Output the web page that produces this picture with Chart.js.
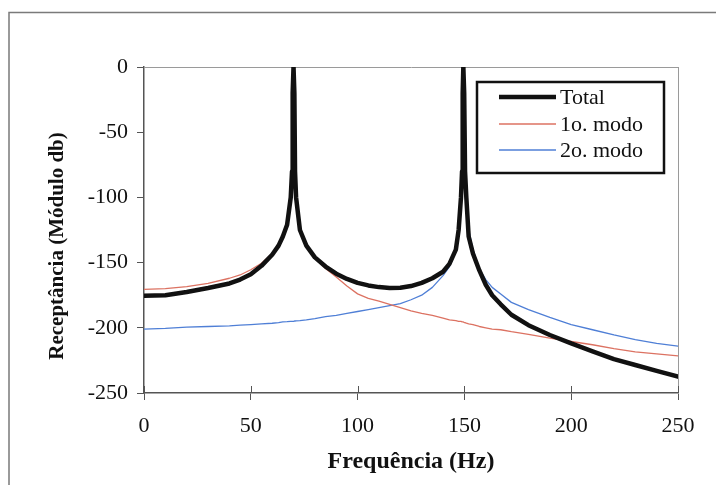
<!DOCTYPE html>
<html>
<head>
<meta charset="utf-8">
<script src="https://cdn.jsdelivr.net/npm/chart.js@4/dist/chart.umd.min.js"></script>
<style>
  html, body { margin: 0; padding: 0; background: #fff; }
  #wrap { position: relative; width: 716px; height: 485px; }
</style>
</head>
<body>
<div id="wrap"><canvas id="chart" width="716" height="485"></canvas></div>
<script>
// frequencias (Hz) e curvas (dB)
const freq = [0, 10, 20, 30, 40, 45, 50, 55, 60, 63, 65, 67, 68.7, 69.3, 69.6, 70, 70.4, 70.7, 71.2, 73, 76, 80, 85, 90, 95, 100, 105, 110, 115, 120, 125, 130, 135, 140, 143, 146, 147.3, 148.4, 148.9, 149.2, 149.5, 149.9, 150.3, 150.9, 152, 154, 157, 160, 163, 167, 172, 180, 190, 200, 210, 220, 230, 240, 250];
const total = [-175.5, -175, -172.5, -169.5, -166, -163, -159, -152.5, -144, -137, -130, -121, -100, -80, -20, 0, -20, -80, -100, -125, -137, -146, -153, -158.5, -162.5, -165.5, -167.5, -168.8, -169.5, -169.3, -168, -165.5, -162, -157, -151, -140, -125, -100, -80, -20, 0, -20, -80, -100, -130, -143, -156, -167, -175, -182, -190, -198, -205.5, -212, -218, -224, -228.5, -233, -237.5];
const modo1 = [-170.5, -170, -168.5, -166, -162, -159.5, -155.5, -150.5, -143, -136.5, -130, -121, -100, -80, -20, 0, -20, -80, -100, -125, -137, -146.5, -154.5, -161, -168, -174, -177.5, -179.5, -182, -184.5, -187, -189, -190.5, -192.5, -194, -194.5, -195, -195, -195.5, -195.5, -195.5, -196, -196, -196.5, -197, -197.5, -199, -200, -201, -201.5, -203, -205, -208, -210.5, -213, -216, -218.5, -220, -221.5];
const modo2 = [-201, -200.5, -199.5, -199, -198.5, -198, -197.5, -197, -196.5, -196, -195.5, -195.3, -195, -195, -195, -195, -194.8, -194.8, -194.7, -194.5, -194, -193, -191.5, -190.5, -189, -187.5, -186, -184.5, -183, -181.5, -178.5, -175, -169, -160, -153, -141, -125, -100, -80, -20, 0, -20, -80, -100, -125, -140, -155, -163, -169, -174, -180.5, -186, -192, -197.5, -201.5, -205.5, -209, -212, -214];
const seriesNames = ["Total", "1o. modo", "2o. modo"];
const xTicks = [0, 50, 100, 150, 200, 250];
const yTicks = [0, -50, -100, -150, -200, -250];
const yTitle = "Receptância (Módulo db)";

const serif = "'Liberation Serif', 'Times New Roman', serif";
const pts = (ys) => freq.map((f, i) => ({ x: f, y: ys[i] }));

// moldura externa, titulo do eixo y, marcas internas do eixo x e legenda com caixa
const extras = {
  id: "extras",
  beforeDraw(chart) {
    const ctx = chart.ctx;
    ctx.save();
    ctx.strokeStyle = "#7a7a7a";
    ctx.lineWidth = 1.5;
    ctx.beginPath();
    ctx.moveTo(9, 490);
    ctx.lineTo(9, 12.5);
    ctx.lineTo(716, 12.5);
    ctx.stroke();
    ctx.restore();
  },
  afterDraw(chart) {
    const ctx = chart.ctx;
    const a = chart.chartArea;
    const xs = chart.scales.x;
    ctx.save();
    ctx.strokeStyle = "#555";
    ctx.lineWidth = 1;
    xTicks.forEach(v => {
      const px = Math.round(xs.getPixelForValue(v)) + 0.5;
      ctx.beginPath();
      ctx.moveTo(px, a.bottom);
      ctx.lineTo(px, a.bottom - 7);
      ctx.stroke();
    });

    // titulo do eixo y, um pouco abaixo do centro como no original
    ctx.save();
    ctx.translate(58, (a.top + a.bottom) / 2 + 16);
    ctx.rotate(-Math.PI / 2);
    ctx.fillStyle = "#111";
    ctx.font = "bold 21px " + serif;
    ctx.textAlign = "center";
    ctx.textBaseline = "middle";
    ctx.fillText(yTitle, 0, 0);
    ctx.restore();

    // legenda
    const bx = a.right - 201, by = a.top + 15, bw = 187, bh = 91;
    ctx.fillStyle = "#fff";
    ctx.fillRect(bx, by, bw, bh);
    ctx.strokeStyle = "#111";
    ctx.lineWidth = 2.5;
    ctx.strokeRect(bx, by, bw, bh);
    const rows = [15, 42, 68];
    chart.data.datasets.forEach((ds, i) => {
      const ly = by + rows[i];
      ctx.strokeStyle = ds.borderColor;
      ctx.lineWidth = ds.borderWidth;
      ctx.beginPath();
      ctx.moveTo(bx + 22, ly);
      ctx.lineTo(bx + 79, ly);
      ctx.stroke();
      ctx.fillStyle = "#111";
      ctx.font = "22px " + serif;
      ctx.textBaseline = "alphabetic";
      ctx.fillText(ds.label, bx + 83, ly + 7);
    });
    ctx.restore();
  }
};

new Chart(document.getElementById("chart").getContext("2d"), {
  type: "line",
  data: {
    datasets: [
      { label: seriesNames[0], data: pts(total), borderColor: "#111111", borderWidth: 4.5 },
      { label: seriesNames[1], data: pts(modo1), borderColor: "#dc7262", borderWidth: 1.3 },
      { label: seriesNames[2], data: pts(modo2), borderColor: "#4f7fd6", borderWidth: 1.3 }
    ]
  },
  plugins: [extras],
  options: {
    responsive: false,
    animation: false,
    elements: { point: { radius: 0 }, line: { tension: 0, borderJoinStyle: "round", borderCapStyle: "round" } },
    layout: { padding: { left: 0, right: 38, top: 67, bottom: 0 } },
    plugins: { legend: { display: false }, tooltip: { enabled: false } },
    scales: {
      x: {
        type: "linear",
        min: 0,
        max: 250,
        afterFit: (s) => { s.height = 92; },
        afterBuildTicks: (s) => { s.ticks = xTicks.map(v => ({ value: v })); },
        border: { display: true, color: "#555", width: 1.5 },
        grid: { drawOnChartArea: false, drawTicks: true, tickLength: 7, color: "#555" },
        ticks: { color: "#111", padding: 13, maxRotation: 0, font: { family: serif, size: 22 } },
        title: {
          display: true,
          text: "Frequência (Hz)",
          color: "#111",
          padding: { top: 0, bottom: 9 },
          font: { family: serif, size: 24, weight: "bold" }
        }
      },
      y: {
        type: "linear",
        min: -250,
        max: 0,
        afterFit: (s) => { s.width = 144; },
        afterBuildTicks: (s) => { s.ticks = yTicks.map(v => ({ value: v })); },
        border: { display: true, color: "#555", width: 1.5 },
        grid: { drawOnChartArea: false, drawTicks: true, tickLength: 7, color: "#555" },
        ticks: { color: "#111", padding: 9, font: { family: serif, size: 22 } },
        title: { display: false }
      },
      x2: {
        type: "linear", position: "top", min: 0, max: 250,
        afterFit: (s) => { s.height = 0; },
        border: { display: true, color: "#9a9a9a", width: 1 },
        grid: { display: false }, ticks: { display: false }
      },
      y2: {
        type: "linear", position: "right", min: -250, max: 0,
        afterFit: (s) => { s.width = 0; },
        border: { display: true, color: "#9a9a9a", width: 1 },
        grid: { display: false }, ticks: { display: false }
      }
    }
  }
});
</script>
</body>
</html>
